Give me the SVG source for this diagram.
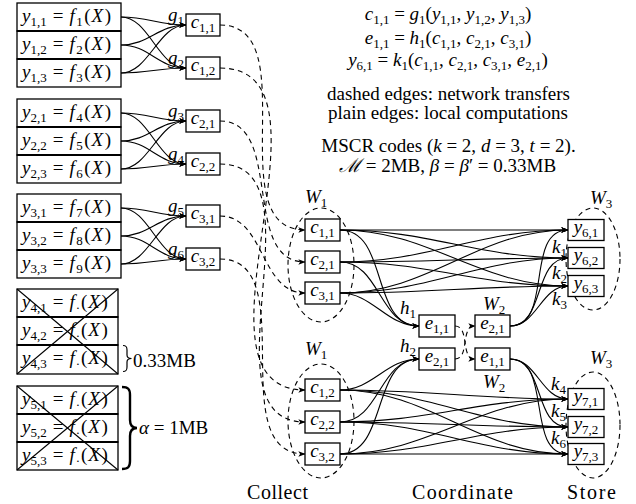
<svg xmlns="http://www.w3.org/2000/svg" width="636" height="504" viewBox="0 0 636 504">
<defs>
<marker id="a" viewBox="0 0 10 10" refX="9.5" refY="5" markerWidth="7" markerHeight="7" markerUnits="userSpaceOnUse" orient="auto"><path d="M0,1.2 L10,5 L0,8.8 L2.5,5 z" fill="#000"/></marker>
<style>
.b{fill:#fff;stroke:#000;stroke-width:1.3}
.sep{stroke:#000;stroke-width:2.2}
.x{stroke:#000;stroke-width:1.1}
.e{fill:none;stroke:#000;stroke-width:1.1;marker-end:url(#a)}
.d{fill:none;stroke:#000;stroke-width:1.1;stroke-dasharray:5 4}
.da{marker-end:url(#a)}
.t{font-family:"Liberation Serif","DejaVu Serif",serif;font-size:19px;fill:#000}
.i{font-style:italic}
.s{font-size:13px;font-style:normal}
.m{text-anchor:middle}
.p{font-size:20px}
</style>
</defs>
<rect width="636" height="504" fill="#fff"/>

<!-- dashed worker ellipses -->
<g id="ellipses">
<ellipse class="d" cx="321" cy="265" rx="33" ry="57"/>
<ellipse class="d" cx="321" cy="421" rx="33" ry="57"/>
<ellipse class="d" cx="593" cy="259" rx="27" ry="51"/>
<ellipse class="d" cx="593" cy="425" rx="27" ry="53"/>
</g>

<g id="connectors">
<!-- group 1 -->
<path class="e" d="M121,17 C149,17 158,25 186,25"/>
<path class="e" d="M121,17 C149,17 158,68 186,68"/>
<path class="e" d="M121,45 C149,45 158,25 186,25"/>
<path class="e" d="M121,45 C149,45 158,68 186,68"/>
<path class="e" d="M121,73 C149,73 158,25 186,25"/>
<path class="e" d="M121,73 C149,73 158,68 186,68"/>
<!-- group 2 -->
<path class="e" d="M121,113 C149,113 158,121 186,121"/>
<path class="e" d="M121,113 C149,113 158,164 186,164"/>
<path class="e" d="M121,141 C149,141 158,121 186,121"/>
<path class="e" d="M121,141 C149,141 158,164 186,164"/>
<path class="e" d="M121,169 C149,169 158,121 186,121"/>
<path class="e" d="M121,169 C149,169 158,164 186,164"/>
<!-- group 3 -->
<path class="e" d="M121,208 C149,208 158,216 186,216"/>
<path class="e" d="M121,208 C149,208 158,259 186,259"/>
<path class="e" d="M121,236 C149,236 158,216 186,216"/>
<path class="e" d="M121,236 C149,236 158,259 186,259"/>
<path class="e" d="M121,264 C149,264 158,216 186,216"/>
<path class="e" d="M121,264 C149,264 158,259 186,259"/>
<!-- network transfers -->
<path class="d da" d="M220,25 C307,25 218,230 305,230"/>
<path class="d da" d="M220,68 C350,68 175,390 305,390"/>
<path class="d da" d="M220,121 C284,121 241,262 305,262"/>
<path class="d da" d="M220,164 C326,164 199,422 305,422"/>
<path class="d da" d="M220,216 C265,216 260,293 305,293"/>
<path class="d da" d="M220,259 C303,259 222,454 305,454"/>
<!-- top W1 -> W3 -->
<path class="e" d="M340,230 C430,230 478,230 568,230"/>
<path class="e" d="M340,230 C430,230 478,258 568,258"/>
<path class="e" d="M340,230 C430,230 478,286 568,286"/>
<path class="e" d="M340,262 C430,262 478,230 568,230"/>
<path class="e" d="M340,262 C430,262 478,258 568,258"/>
<path class="e" d="M340,262 C430,262 478,286 568,286"/>
<path class="e" d="M340,293 C430,293 478,230 568,230"/>
<path class="e" d="M340,293 C430,293 478,258 568,258"/>
<path class="e" d="M340,293 C430,293 478,286 568,286"/>
<path class="e" d="M340,230 C389,230 370,326 419,326"/>
<path class="e" d="M340,262 C380,262 379,326 419,326"/>
<path class="e" d="M340,293 C373,293 386,326 419,326"/>
<path class="e" d="M510,326 C554,326 524,230 568,230"/>
<path class="e" d="M510,326 C545,326 533,258 568,258"/>
<path class="e" d="M510,326 C537,326 541,286 568,286"/>
<!-- W2 exchange -->
<path class="d da" d="M455,326 C470,326 460,359 475,359"/>
<path class="d da" d="M455,359 C470,359 460,326 475,326"/>
<!-- bottom W1 -> W3 -->
<path class="e" d="M340,390 C430,390 478,399 568,399"/>
<path class="e" d="M340,390 C430,390 478,427 568,427"/>
<path class="e" d="M340,390 C430,390 478,454 568,454"/>
<path class="e" d="M340,422 C430,422 478,399 568,399"/>
<path class="e" d="M340,422 C430,422 478,427 568,427"/>
<path class="e" d="M340,422 C430,422 478,454 568,454"/>
<path class="e" d="M340,454 C430,454 478,399 568,399"/>
<path class="e" d="M340,454 C430,454 478,427 568,427"/>
<path class="e" d="M340,454 C430,454 478,454 568,454"/>
<path class="e" d="M340,390 C373,390 386,359 419,359"/>
<path class="e" d="M340,422 C380,422 379,359 419,359"/>
<path class="e" d="M340,454 C388,454 371,359 419,359"/>
<path class="e" d="M510,359 C537,359 541,399 568,399"/>
<path class="e" d="M510,359 C545,359 533,427 568,427"/>
<path class="e" d="M510,359 C553,359 525,454 568,454"/>
</g>

<!-- left data groups -->
<g id="group1">
<rect class="b" x="17" y="3" width="104" height="28"/><rect class="b" x="17" y="31" width="104" height="28"/><rect class="b" x="17" y="59" width="104" height="28"/>
<line class="sep" x1="17" y1="31" x2="121" y2="31"/><line class="sep" x1="17" y1="59" x2="121" y2="59"/>
<text class="t" x="22" y="22" xml:space="preserve"><tspan class="i">y</tspan><tspan class="s" dy="4">1,1</tspan><tspan dy="-4" dx="6">=</tspan><tspan class="i" dx="6">f</tspan><tspan class="s" dy="4" dx="1.5">1</tspan><tspan dy="-4" dx="1.5">(</tspan><tspan class="i" dx="1">X</tspan><tspan dx="1.5">)</tspan></text>
<text class="t" x="22" y="50" xml:space="preserve"><tspan class="i">y</tspan><tspan class="s" dy="4">1,2</tspan><tspan dy="-4" dx="6">=</tspan><tspan class="i" dx="6">f</tspan><tspan class="s" dy="4" dx="1.5">2</tspan><tspan dy="-4" dx="1.5">(</tspan><tspan class="i" dx="1">X</tspan><tspan dx="1.5">)</tspan></text>
<text class="t" x="22" y="78" xml:space="preserve"><tspan class="i">y</tspan><tspan class="s" dy="4">1,3</tspan><tspan dy="-4" dx="6">=</tspan><tspan class="i" dx="6">f</tspan><tspan class="s" dy="4" dx="1.5">3</tspan><tspan dy="-4" dx="1.5">(</tspan><tspan class="i" dx="1">X</tspan><tspan dx="1.5">)</tspan></text>
</g>
<g id="group2">
<rect class="b" x="17" y="99" width="104" height="28"/><rect class="b" x="17" y="127" width="104" height="28"/><rect class="b" x="17" y="155" width="104" height="28"/>
<line class="sep" x1="17" y1="127" x2="121" y2="127"/><line class="sep" x1="17" y1="155" x2="121" y2="155"/>
<text class="t" x="22" y="118" xml:space="preserve"><tspan class="i">y</tspan><tspan class="s" dy="4">2,1</tspan><tspan dy="-4" dx="6">=</tspan><tspan class="i" dx="6">f</tspan><tspan class="s" dy="4" dx="1.5">4</tspan><tspan dy="-4" dx="1.5">(</tspan><tspan class="i" dx="1">X</tspan><tspan dx="1.5">)</tspan></text>
<text class="t" x="22" y="146" xml:space="preserve"><tspan class="i">y</tspan><tspan class="s" dy="4">2,2</tspan><tspan dy="-4" dx="6">=</tspan><tspan class="i" dx="6">f</tspan><tspan class="s" dy="4" dx="1.5">5</tspan><tspan dy="-4" dx="1.5">(</tspan><tspan class="i" dx="1">X</tspan><tspan dx="1.5">)</tspan></text>
<text class="t" x="22" y="174" xml:space="preserve"><tspan class="i">y</tspan><tspan class="s" dy="4">2,3</tspan><tspan dy="-4" dx="6">=</tspan><tspan class="i" dx="6">f</tspan><tspan class="s" dy="4" dx="1.5">6</tspan><tspan dy="-4" dx="1.5">(</tspan><tspan class="i" dx="1">X</tspan><tspan dx="1.5">)</tspan></text>
</g>
<g id="group3">
<rect class="b" x="17" y="194" width="104" height="28"/><rect class="b" x="17" y="222" width="104" height="28"/><rect class="b" x="17" y="250" width="104" height="28"/>
<line class="sep" x1="17" y1="222" x2="121" y2="222"/><line class="sep" x1="17" y1="250" x2="121" y2="250"/>
<text class="t" x="22" y="213" xml:space="preserve"><tspan class="i">y</tspan><tspan class="s" dy="4">3,1</tspan><tspan dy="-4" dx="6">=</tspan><tspan class="i" dx="6">f</tspan><tspan class="s" dy="4" dx="1.5">7</tspan><tspan dy="-4" dx="1.5">(</tspan><tspan class="i" dx="1">X</tspan><tspan dx="1.5">)</tspan></text>
<text class="t" x="22" y="241" xml:space="preserve"><tspan class="i">y</tspan><tspan class="s" dy="4">3,2</tspan><tspan dy="-4" dx="6">=</tspan><tspan class="i" dx="6">f</tspan><tspan class="s" dy="4" dx="1.5">8</tspan><tspan dy="-4" dx="1.5">(</tspan><tspan class="i" dx="1">X</tspan><tspan dx="1.5">)</tspan></text>
<text class="t" x="22" y="269" xml:space="preserve"><tspan class="i">y</tspan><tspan class="s" dy="4">3,3</tspan><tspan dy="-4" dx="6">=</tspan><tspan class="i" dx="6">f</tspan><tspan class="s" dy="4" dx="1.5">9</tspan><tspan dy="-4" dx="1.5">(</tspan><tspan class="i" dx="1">X</tspan><tspan dx="1.5">)</tspan></text>
</g>
<g id="group4">
<rect class="b" x="17" y="289" width="101" height="28"/><rect class="b" x="17" y="317" width="101" height="28"/><rect class="b" x="17" y="345" width="101" height="29"/>
<line class="sep" x1="17" y1="317" x2="118" y2="317"/><line class="sep" x1="17" y1="345" x2="118" y2="345"/>
<text class="t" x="22" y="308" xml:space="preserve"><tspan class="i">y</tspan><tspan class="s" dy="4">4,1</tspan><tspan dy="-4" dx="6">=</tspan><tspan class="i" dx="6">f</tspan><tspan class="s" dy="4" dx="1">·</tspan><tspan dy="-4" dx="1">(</tspan><tspan class="i" dx="1">X</tspan><tspan dx="1.5">)</tspan></text>
<text class="t" x="22" y="336" xml:space="preserve"><tspan class="i">y</tspan><tspan class="s" dy="4">4,2</tspan><tspan dy="-4" dx="6">=</tspan><tspan class="i" dx="6">f</tspan><tspan class="s" dy="4" dx="1">·</tspan><tspan dy="-4" dx="1">(</tspan><tspan class="i" dx="1">X</tspan><tspan dx="1.5">)</tspan></text>
<text class="t" x="22" y="364" xml:space="preserve"><tspan class="i">y</tspan><tspan class="s" dy="4">4,3</tspan><tspan dy="-4" dx="6">=</tspan><tspan class="i" dx="6">f</tspan><tspan class="s" dy="4" dx="1">·</tspan><tspan dy="-4" dx="1">(</tspan><tspan class="i" dx="1">X</tspan><tspan dx="1.5">)</tspan></text>
<line class="x" x1="17" y1="289" x2="118" y2="374"/><line class="x" x1="118" y1="289" x2="17" y2="374"/>
<path d="M123,345.5 C126.5,345.5 127,347 127,350 L127,355 C127,357.5 128.5,358.5 131.5,358.5 C128.5,358.5 127,359.5 127,362 L127,367 C127,370 126.5,371.5 123,371.5" fill="none" stroke="#000" stroke-width="1.2"/>
<text class="t" x="133" y="367">0.33MB</text>
</g>
<g id="group5">
<rect class="b" x="17" y="386" width="101" height="28"/><rect class="b" x="17" y="414" width="101" height="28"/><rect class="b" x="17" y="442" width="101" height="28"/>
<line class="sep" x1="17" y1="414" x2="118" y2="414"/><line class="sep" x1="17" y1="442" x2="118" y2="442"/>
<text class="t" x="22" y="405" xml:space="preserve"><tspan class="i">y</tspan><tspan class="s" dy="4">5,1</tspan><tspan dy="-4" dx="6">=</tspan><tspan class="i" dx="6">f</tspan><tspan class="s" dy="4" dx="1">·</tspan><tspan dy="-4" dx="1">(</tspan><tspan class="i" dx="1">X</tspan><tspan dx="1.5">)</tspan></text>
<text class="t" x="22" y="433" xml:space="preserve"><tspan class="i">y</tspan><tspan class="s" dy="4">5,2</tspan><tspan dy="-4" dx="6">=</tspan><tspan class="i" dx="6">f</tspan><tspan class="s" dy="4" dx="1">·</tspan><tspan dy="-4" dx="1">(</tspan><tspan class="i" dx="1">X</tspan><tspan dx="1.5">)</tspan></text>
<text class="t" x="22" y="461" xml:space="preserve"><tspan class="i">y</tspan><tspan class="s" dy="4">5,3</tspan><tspan dy="-4" dx="6">=</tspan><tspan class="i" dx="6">f</tspan><tspan class="s" dy="4" dx="1">·</tspan><tspan dy="-4" dx="1">(</tspan><tspan class="i" dx="1">X</tspan><tspan dx="1.5">)</tspan></text>
<line class="x" x1="17" y1="386" x2="118" y2="470"/><line class="x" x1="118" y1="386" x2="17" y2="470"/>
<path d="M122,387 C128,387 130,389 130,395 L130,420 C130,425 132,428 137,428 C132,428 130,431 130,436 L130,461 C130,467 128,469 122,469" fill="none" stroke="#000" stroke-width="2.4"/>
<text class="t" x="139" y="434" xml:space="preserve"><tspan class="i">α</tspan> = 1MB</text>
</g>

<!-- first-level coded nodes -->
<g id="c11"><rect class="b" x="186" y="14" width="34" height="22"/><text class="t m" x="203" y="28"><tspan class="i">c</tspan><tspan class="s" dy="4">1,1</tspan></text><text class="t" x="168" y="20.5"><tspan class="i">g</tspan><tspan class="s" dy="4">1</tspan></text></g>
<g id="c12"><rect class="b" x="186" y="57" width="34" height="22"/><text class="t m" x="203" y="71"><tspan class="i">c</tspan><tspan class="s" dy="4">1,2</tspan></text><text class="t" x="168" y="63.5"><tspan class="i">g</tspan><tspan class="s" dy="4">2</tspan></text></g>
<g id="c21"><rect class="b" x="186" y="110" width="34" height="22"/><text class="t m" x="203" y="124"><tspan class="i">c</tspan><tspan class="s" dy="4">2,1</tspan></text><text class="t" x="168" y="116.5"><tspan class="i">g</tspan><tspan class="s" dy="4">3</tspan></text></g>
<g id="c22"><rect class="b" x="186" y="153" width="34" height="22"/><text class="t m" x="203" y="167"><tspan class="i">c</tspan><tspan class="s" dy="4">2,2</tspan></text><text class="t" x="168" y="159.5"><tspan class="i">g</tspan><tspan class="s" dy="4">4</tspan></text></g>
<g id="c31"><rect class="b" x="186" y="205" width="34" height="22"/><text class="t m" x="203" y="219"><tspan class="i">c</tspan><tspan class="s" dy="4">3,1</tspan></text><text class="t" x="168" y="211.5"><tspan class="i">g</tspan><tspan class="s" dy="4">5</tspan></text></g>
<g id="c32"><rect class="b" x="186" y="248" width="34" height="22"/><text class="t m" x="203" y="262"><tspan class="i">c</tspan><tspan class="s" dy="4">3,2</tspan></text><text class="t" x="168" y="254.5"><tspan class="i">g</tspan><tspan class="s" dy="4">6</tspan></text></g>

<!-- W1 top -->
<g id="w1top">
<text class="t" x="305" y="203"><tspan class="i">W</tspan><tspan class="s" dy="4">1</tspan></text>
<rect class="b" x="305" y="219" width="35" height="22"/><text class="t m" x="322.5" y="233"><tspan class="i">c</tspan><tspan class="s" dy="4">1,1</tspan></text>
<rect class="b" x="305" y="251" width="35" height="22"/><text class="t m" x="322.5" y="265"><tspan class="i">c</tspan><tspan class="s" dy="4">2,1</tspan></text>
<rect class="b" x="305" y="282" width="35" height="22"/><text class="t m" x="322.5" y="296"><tspan class="i">c</tspan><tspan class="s" dy="4">3,1</tspan></text>
</g>
<!-- W1 bottom -->
<g id="w1bot">
<text class="t" x="305" y="355"><tspan class="i">W</tspan><tspan class="s" dy="4">1</tspan></text>
<rect class="b" x="305" y="379" width="35" height="22"/><text class="t m" x="322.5" y="393"><tspan class="i">c</tspan><tspan class="s" dy="4">1,2</tspan></text>
<rect class="b" x="305" y="411" width="35" height="22"/><text class="t m" x="322.5" y="425"><tspan class="i">c</tspan><tspan class="s" dy="4">2,2</tspan></text>
<rect class="b" x="305" y="443" width="35" height="22"/><text class="t m" x="322.5" y="457"><tspan class="i">c</tspan><tspan class="s" dy="4">3,2</tspan></text>
</g>
<!-- W2 -->
<g id="e11a"><rect class="b" x="419" y="315" width="36" height="22"/><text class="t m" x="437" y="329"><tspan class="i">e</tspan><tspan class="s" dy="4">1,1</tspan></text><text class="t" x="400" y="314"><tspan class="i">h</tspan><tspan class="s" dy="4">1</tspan></text></g>
<g id="e21a"><rect class="b" x="419" y="348" width="36" height="22"/><text class="t m" x="437" y="362"><tspan class="i">e</tspan><tspan class="s" dy="4">2,1</tspan></text><text class="t" x="400" y="352"><tspan class="i">h</tspan><tspan class="s" dy="4">2</tspan></text></g>
<g id="e21b"><rect class="b" x="475" y="315" width="35" height="22"/><text class="t m" x="492.5" y="329"><tspan class="i">e</tspan><tspan class="s" dy="4">2,1</tspan></text><text class="t" x="483" y="310"><tspan class="i">W</tspan><tspan class="s" dy="4">2</tspan></text></g>
<g id="e11b"><rect class="b" x="475" y="348" width="35" height="22"/><text class="t m" x="492.5" y="362"><tspan class="i">e</tspan><tspan class="s" dy="4">1,1</tspan></text><text class="t" x="483" y="388"><tspan class="i">W</tspan><tspan class="s" dy="4">2</tspan></text></g>
<!-- W3 top -->
<g id="w3top">
<text class="t" x="590" y="204"><tspan class="i">W</tspan><tspan class="s" dy="4">3</tspan></text>
<rect class="b" x="568" y="219.5" width="36" height="21"/><text class="t m" x="586" y="233"><tspan class="i">y</tspan><tspan class="s" dy="4">6,1</tspan></text>
<rect class="b" x="568" y="247.5" width="36" height="21"/><text class="t m" x="586" y="261"><tspan class="i">y</tspan><tspan class="s" dy="4">6,2</tspan></text>
<rect class="b" x="568" y="275.5" width="36" height="21"/><text class="t m" x="586" y="289"><tspan class="i">y</tspan><tspan class="s" dy="4">6,3</tspan></text>
<text class="t" x="552" y="253"><tspan class="i">k</tspan><tspan class="s" dy="4">1</tspan></text>
<text class="t" x="552" y="279"><tspan class="i">k</tspan><tspan class="s" dy="4">2</tspan></text>
<text class="t" x="552" y="305"><tspan class="i">k</tspan><tspan class="s" dy="4">3</tspan></text>
</g>
<!-- W3 bottom -->
<g id="w3bot">
<text class="t" x="590" y="364"><tspan class="i">W</tspan><tspan class="s" dy="4">3</tspan></text>
<rect class="b" x="568" y="388.5" width="36" height="21"/><text class="t m" x="586" y="402"><tspan class="i">y</tspan><tspan class="s" dy="4">7,1</tspan></text>
<rect class="b" x="568" y="416.5" width="36" height="21"/><text class="t m" x="586" y="430"><tspan class="i">y</tspan><tspan class="s" dy="4">7,2</tspan></text>
<rect class="b" x="568" y="443.5" width="36" height="21"/><text class="t m" x="586" y="457"><tspan class="i">y</tspan><tspan class="s" dy="4">7,3</tspan></text>
<text class="t" x="551" y="390"><tspan class="i">k</tspan><tspan class="s" dy="4">4</tspan></text>
<text class="t" x="551" y="417"><tspan class="i">k</tspan><tspan class="s" dy="4">5</tspan></text>
<text class="t" x="551" y="444"><tspan class="i">k</tspan><tspan class="s" dy="4">6</tspan></text>
</g>

<!-- legend text -->
<g id="legend">
<text class="t m" x="448" y="20" xml:space="preserve"><tspan class="i">c</tspan><tspan class="s" dy="4">1,1</tspan><tspan dy="-4"> = </tspan><tspan class="i">g</tspan><tspan class="s" dy="4">1</tspan><tspan dy="-4">(</tspan><tspan class="i">y</tspan><tspan class="s" dy="4">1,1</tspan><tspan dy="-4">, </tspan><tspan class="i">y</tspan><tspan class="s" dy="4">1,2</tspan><tspan dy="-4">, </tspan><tspan class="i">y</tspan><tspan class="s" dy="4">1,3</tspan><tspan dy="-4">)</tspan></text>
<text class="t m" x="448" y="43.5" xml:space="preserve"><tspan class="i">e</tspan><tspan class="s" dy="4">1,1</tspan><tspan dy="-4"> = </tspan><tspan class="i">h</tspan><tspan class="s" dy="4">1</tspan><tspan dy="-4">(</tspan><tspan class="i">c</tspan><tspan class="s" dy="4">1,1</tspan><tspan dy="-4">, </tspan><tspan class="i">c</tspan><tspan class="s" dy="4">2,1</tspan><tspan dy="-4">, </tspan><tspan class="i">c</tspan><tspan class="s" dy="4">3,1</tspan><tspan dy="-4">)</tspan></text>
<text class="t m" x="448" y="66" xml:space="preserve"><tspan class="i">y</tspan><tspan class="s" dy="4">6,1</tspan><tspan dy="-4"> = </tspan><tspan class="i">k</tspan><tspan class="s" dy="4">1</tspan><tspan dy="-4">(</tspan><tspan class="i">c</tspan><tspan class="s" dy="4">1,1</tspan><tspan dy="-4">, </tspan><tspan class="i">c</tspan><tspan class="s" dy="4">2,1</tspan><tspan dy="-4">, </tspan><tspan class="i">c</tspan><tspan class="s" dy="4">3,1</tspan><tspan dy="-4">, </tspan><tspan class="i">e</tspan><tspan class="s" dy="4">2,1</tspan><tspan dy="-4">)</tspan></text>
<text class="t m" x="448.5" y="99.5" textLength="243" lengthAdjust="spacing">dashed edges: network transfers</text>
<text class="t m" x="448" y="118.5" textLength="240" lengthAdjust="spacing">plain edges: local computations</text>
<text class="t m" x="448.5" y="152" xml:space="preserve">MSCR codes (<tspan class="i">k</tspan> = 2, <tspan class="i">d</tspan> = 3, <tspan class="i">t</tspan> = 2).</text>
<text class="t m" x="447.5" y="172" xml:space="preserve"><tspan class="i">ℳ</tspan> = 2MB, <tspan class="i">β</tspan> = <tspan class="i">β</tspan>′ = 0.33MB</text>
</g>

<g id="phases">
<text class="t p" x="247" y="498.5" textLength="61" lengthAdjust="spacing">Collect</text>
<text class="t p" x="412" y="498.5" textLength="101" lengthAdjust="spacing">Coordinate</text>
<text class="t p" x="567" y="498.5" textLength="49" lengthAdjust="spacing">Store</text>
</g>
</svg>
